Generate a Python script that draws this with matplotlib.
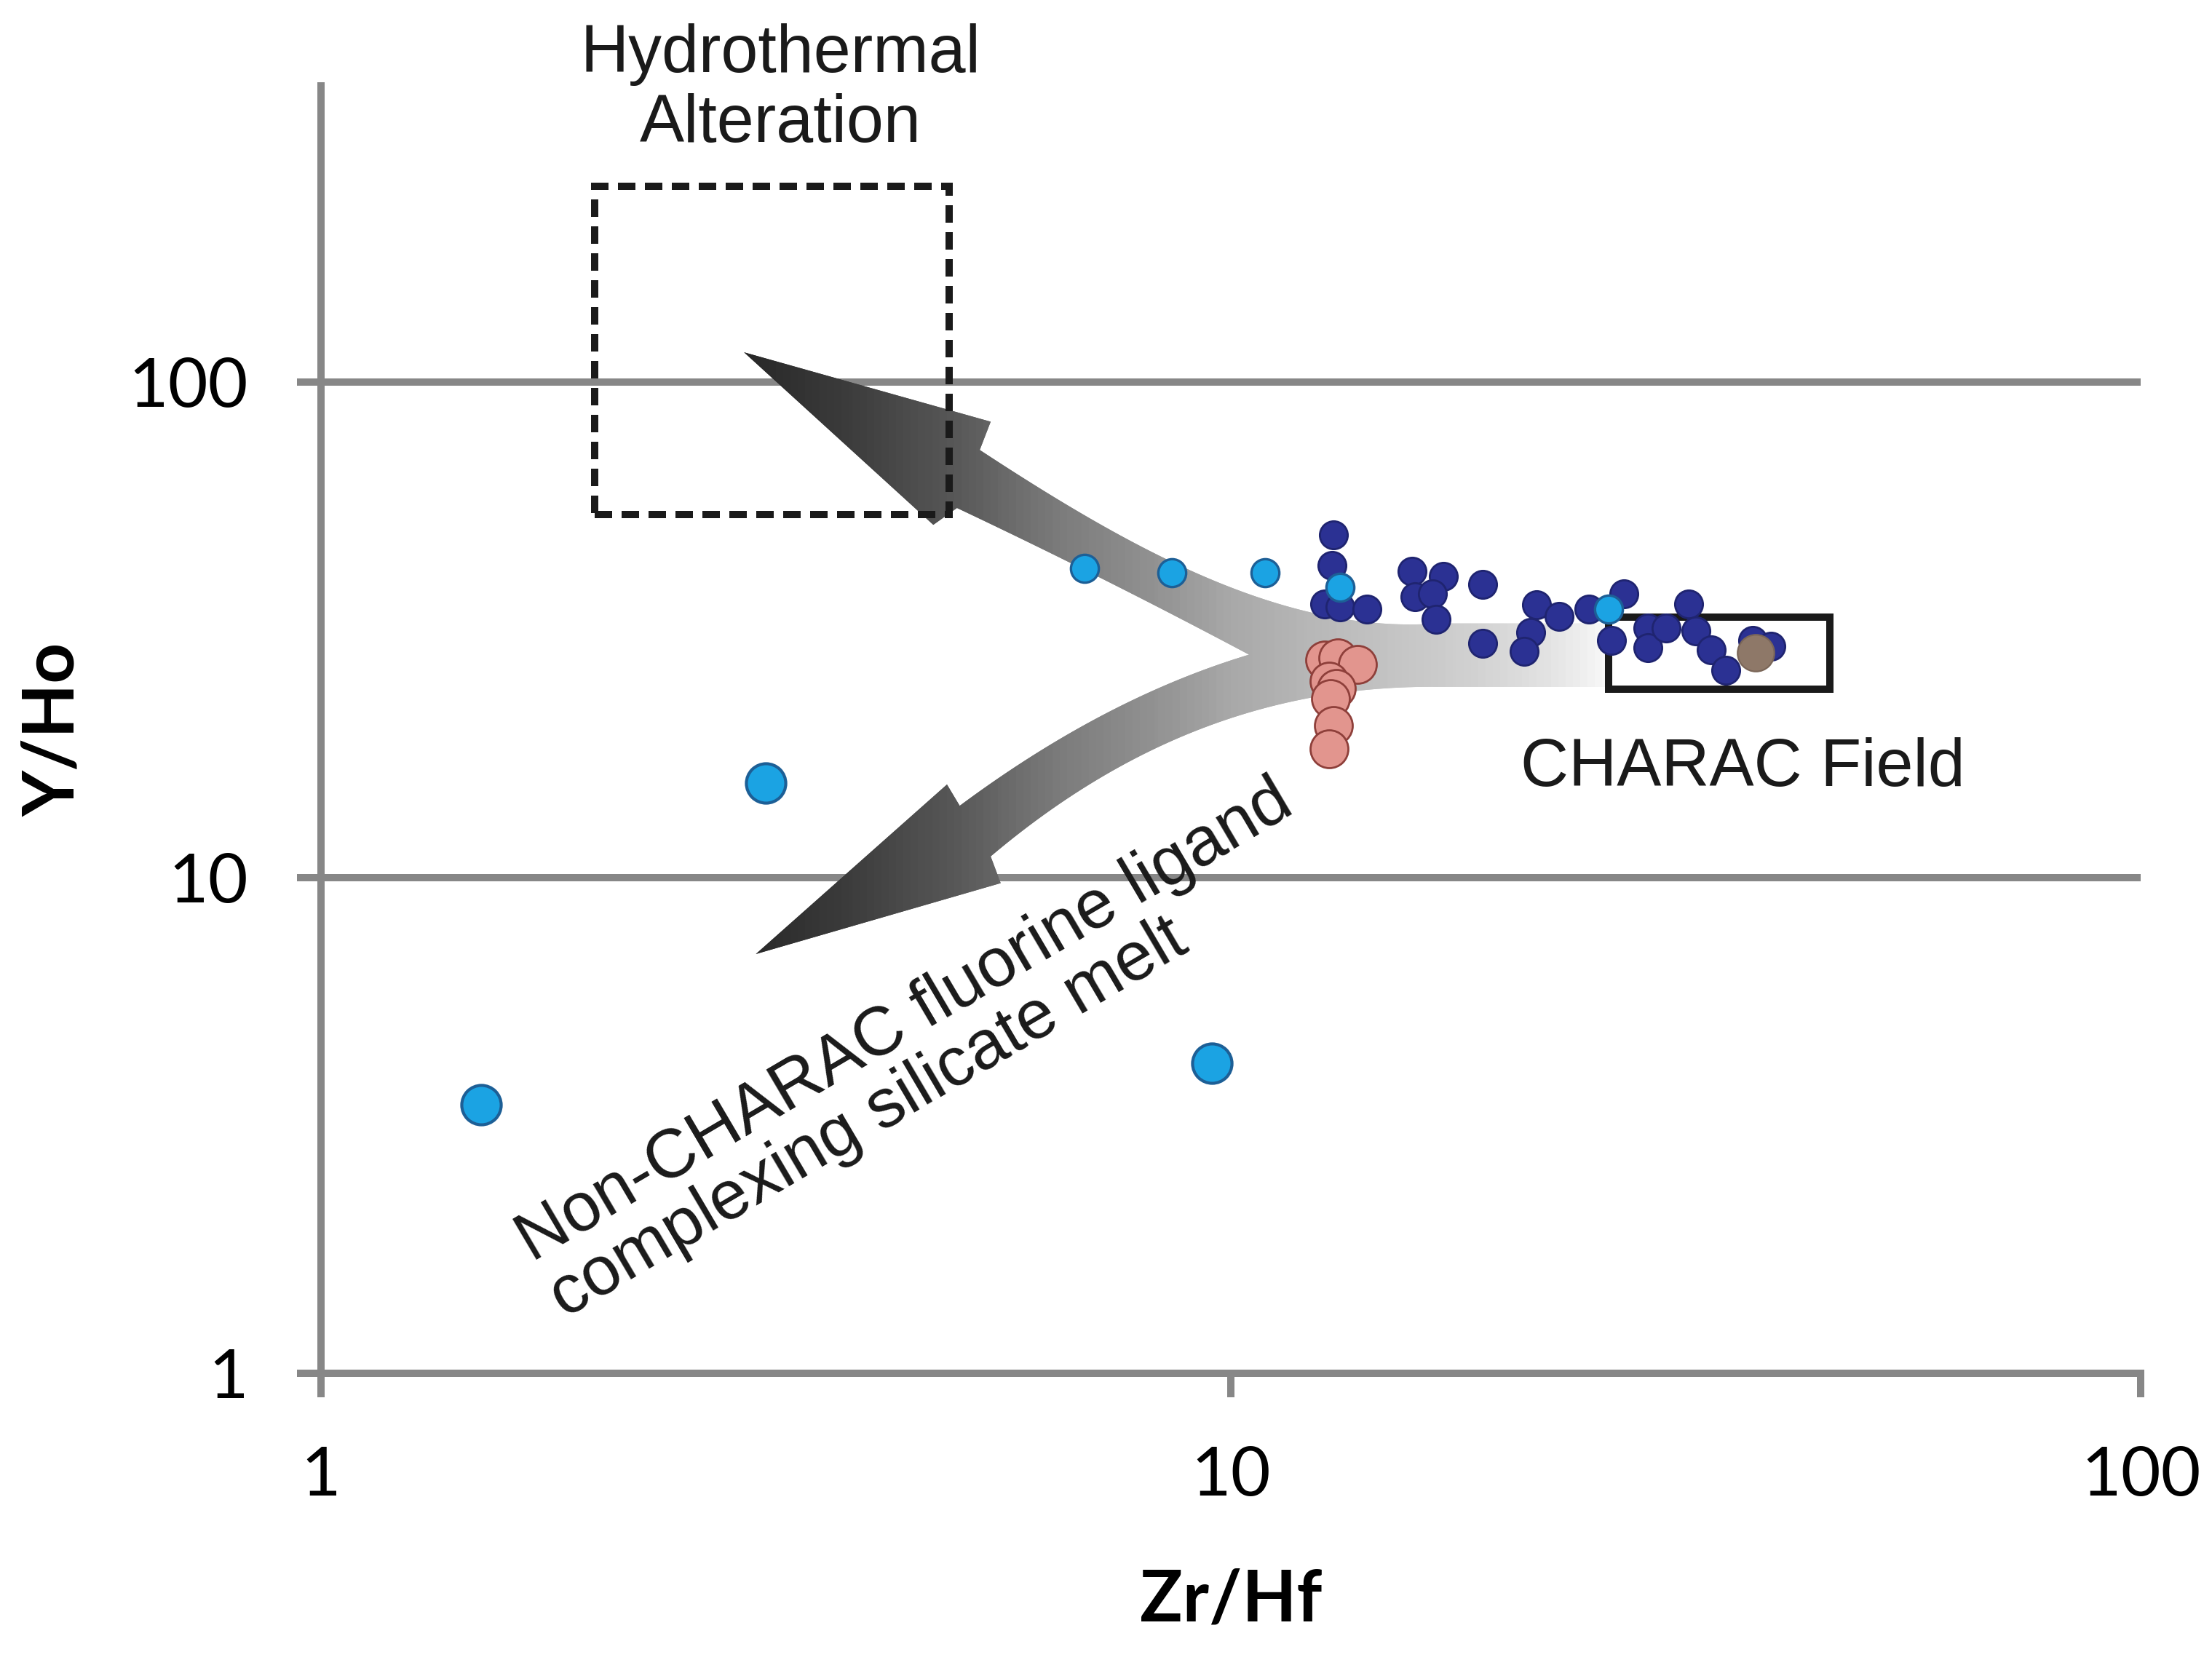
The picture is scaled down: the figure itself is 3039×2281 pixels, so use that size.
import matplotlib
matplotlib.use("Agg")
import matplotlib.pyplot as plt
import numpy as np
from matplotlib.collections import PolyCollection
from matplotlib.colors import LinearSegmentedColormap
from matplotlib.patches import Polygon, Rectangle

plt.rcParams['font.family'] = ['Lato', 'DejaVu Sans']

# --- data -----------------------------------------------------------------
# dark blue samples
navy_zrhf = [12.96, 12.91, 12.68, 13.19, 14.12, 15.83, 17.12, 15.94, 16.64, 16.82,
             18.92, 18.92, 21.67, 22.95, 21.37, 20.99, 24.74, 27.05, 26.19, 28.74,
             28.74, 30.11, 31.88, 32.45, 33.75, 34.99, 37.44, 39.22]
navy_yho = [49.2, 42.6, 35.7, 35.2, 34.8, 41.5, 40.5, 36.9, 37.4, 33.2,
            39.1, 29.7, 35.5, 33.7, 31.3, 28.6, 34.8, 37.4, 30.1, 31.9,
            29.1, 31.9, 35.7, 31.5, 28.8, 26.2, 30.1, 29.3]

# light blue samples (small and large markers)
cyan_zrhf = [6.91, 8.62, 10.91, 13.19, 26.0]
cyan_yho = [42.1, 41.3, 41.3, 38.6, 34.8]
cyan_big_zrhf = [1.50, 3.08, 9.53]
cyan_big_yho = [3.48, 15.5, 4.23]

# pink samples
pink_zrhf = [12.68, 13.10, 13.77, 12.82, 13.05, 12.87, 12.96, 12.82]
pink_yho = [27.5, 27.8, 26.9, 24.9, 24.1, 23.0, 20.3, 18.2]

# brown sample
brown_zrhf = [37.7]
brown_yho = [28.4]

x_ticks = [1, 10, 100]
x_tick_labels = ['1', '10', '100']
y_ticks = [1, 10, 100]
y_tick_labels = ['1', '10', '100']

# fields (Zr/Hf range, Y/Ho range)
hydro_box = (2.0, 4.9, 54, 248)
charac_box = (26.0, 45.5, 24.0, 33.5)

# outline of the forked arrow, in decades (log10 Zr/Hf, log10 Y/Ho)
arrow_up_head = [(0.465, 2.060), (0.736, 1.920)]
arrow_up_outer = [(0.724, 1.863), (0.766, 1.818), (0.833, 1.744), (0.899, 1.667),
                  (0.953, 1.615), (1.020, 1.573), (1.087, 1.538), (1.166, 1.516),
                  (1.228, 1.513)]
band = [(1.421, 1.513), (1.421, 1.385)]
arrow_low_outer = [(1.228, 1.385), (1.150, 1.376), (1.087, 1.365), (1.020, 1.333),
                   (0.953, 1.291), (0.887, 1.234), (0.820, 1.157), (0.736, 1.043)]
arrow_low_head = [(0.747, 0.989), (0.478, 0.846), (0.688, 1.188)]
arrow_low_inner = [(0.702, 1.145), (0.753, 1.219), (0.820, 1.288), (0.887, 1.350),
                   (0.953, 1.407), (1.020, 1.450)]
arrow_up_inner = [(1.020, 1.450), (0.953, 1.519), (0.899, 1.561), (0.833, 1.627),
                  (0.766, 1.689), (0.699, 1.746)]
arrow_up_barb = [(0.673, 1.712)]

grey = '#878787'


def edge(pts, deg, n=60):
    # smooth curve through the measured edge points, pinned at both ends
    p = np.array(pts, float)
    w = np.ones(len(p))
    w[[0, -1]] = 20
    c = np.polyfit(p[:, 0], p[:, 1], deg, w=w)
    xs = np.linspace(p[0, 0], p[-1, 0], n)
    return np.column_stack([xs, np.polyval(c, xs)])


fig = plt.figure(figsize=(15.195, 11.405), dpi=200)
ax = fig.add_axes([0.1451, 0.1727, 0.8227, 0.7756])
ax.set_xscale('log')
ax.set_yscale('log')
ax.set_xlim(1, 100)
ax.set_ylim(1, 396)
ax.set_autoscale_on(False)

for s in ['top', 'right']:
    ax.spines[s].set_visible(False)
for s in ['left', 'bottom']:
    ax.spines[s].set_color(grey)
    ax.spines[s].set_linewidth(3.6)

ax.set_xticks(x_ticks, x_tick_labels)
ax.set_yticks(y_ticks, y_tick_labels)
ax.minorticks_off()
ax.tick_params(axis='both', which='major', length=12, width=3.6, color=grey,
               direction='out', pad=24, labelsize=34)
ax.yaxis.grid(True, color=grey, linewidth=3.6)
ax.set_axisbelow(True)

ax.set_xlabel('Zr/Hf', fontsize=35, fontweight='bold', labelpad=30)
ax.set_ylabel('Y/Ho', fontsize=35, fontweight='bold', labelpad=21)

# forked arrow with grey gradient
outline = np.vstack([
    np.array(arrow_up_head),
    edge(arrow_up_outer, 3),
    np.array(band),
    edge(arrow_low_outer, 3),
    np.array(arrow_low_head),
    edge(arrow_low_inner, 2),
    edge(arrow_up_inner, 2)[1:],
    np.array(arrow_up_barb),
])
arrow = Polygon(10 ** outline, closed=True, facecolor='none', edgecolor='none')
ax.add_patch(arrow)

cmap = LinearSegmentedColormap.from_list('arrow', [
    (0.0, '#222222'), (0.232, '#272727'), (0.295, '#3e3e3e'), (0.347, '#575757'),
    (0.406, '#7b7b7b'), (0.468, '#969696'), (0.50, '#a8a8a8'), (0.535, '#b4b4b4'),
    (0.583, '#c2c2c2'), (0.635, '#d1d1d1'), (0.676, '#e3e3e3'), (0.70, '#f3f3f3'),
    (0.715, '#ffffff'), (1.0, '#ffffff')])
edges = np.linspace(0, 1, 501)
strips = [[(a, 0), (b + 0.002, 0), (b + 0.002, 1), (a, 1)] for a, b in zip(edges[:-1], edges[1:])]
grad = PolyCollection(strips, facecolors=cmap((edges[:-1] + edges[1:]) / 2),
                      edgecolors='none', antialiased=False, transform=ax.transAxes, zorder=1)
ax.add_collection(grad, autolim=False)
grad.set_clip_path(arrow)

# fields
x0, x1, y0, y1 = hydro_box
ax.add_patch(Rectangle((x0, y0), x1 - x0, y1 - y0, fill=False, edgecolor='#1a1a1a',
                       linewidth=3.6, linestyle=(0, (2.4, 1.3)), zorder=3))
x0, x1, y0, y1 = charac_box
ax.add_patch(Rectangle((x0, y0), x1 - x0, y1 - y0, fill=False, edgecolor='#1a1a1a',
                       linewidth=3.6, zorder=3, joinstyle='miter'))

# samples
ax.scatter(navy_zrhf, navy_yho, s=190, color='#2b3193', edgecolor='#1f2470', linewidth=1.0, zorder=4)
ax.scatter(cyan_zrhf, cyan_yho, s=190, color='#1ba3e3', edgecolor='#1d5f96', linewidth=1.2, zorder=5)
ax.scatter(cyan_big_zrhf, cyan_big_yho, s=380, color='#1ba3e3', edgecolor='#1d5f96', linewidth=1.5, zorder=5)
ax.scatter(pink_zrhf, pink_yho, s=350, color='#e2958e', edgecolor='#8e3f3a', linewidth=1.0, zorder=5)
ax.scatter(brown_zrhf, brown_yho, s=330, color='#8e7868', edgecolor='#7a6658', linewidth=0.8, zorder=6)

# labels
ax.text(3.2, 389, 'Hydrothermal\nAlteration', fontsize=33, family=['Liberation Sans', 'DejaVu Sans'],
        ha='center', va='center', linespacing=1.15, color='#1a1a1a')
ax.text(20.8, 15.3, 'CHARAC Field', fontsize=33, family=['Liberation Sans', 'DejaVu Sans'],
        ha='left', va='baseline', color='#1a1a1a')
ax.text(4.57, 4.49, 'Non-CHARAC fluorine ligand\ncomplexing silicate melt', fontsize=34,
        family=['Liberation Sans', 'DejaVu Sans'], rotation=30.5, rotation_mode='anchor',
        ha='center', va='center', multialignment='left', linespacing=1.0, color='#1a1a1a')

fig.savefig('out.png', dpi=200)
